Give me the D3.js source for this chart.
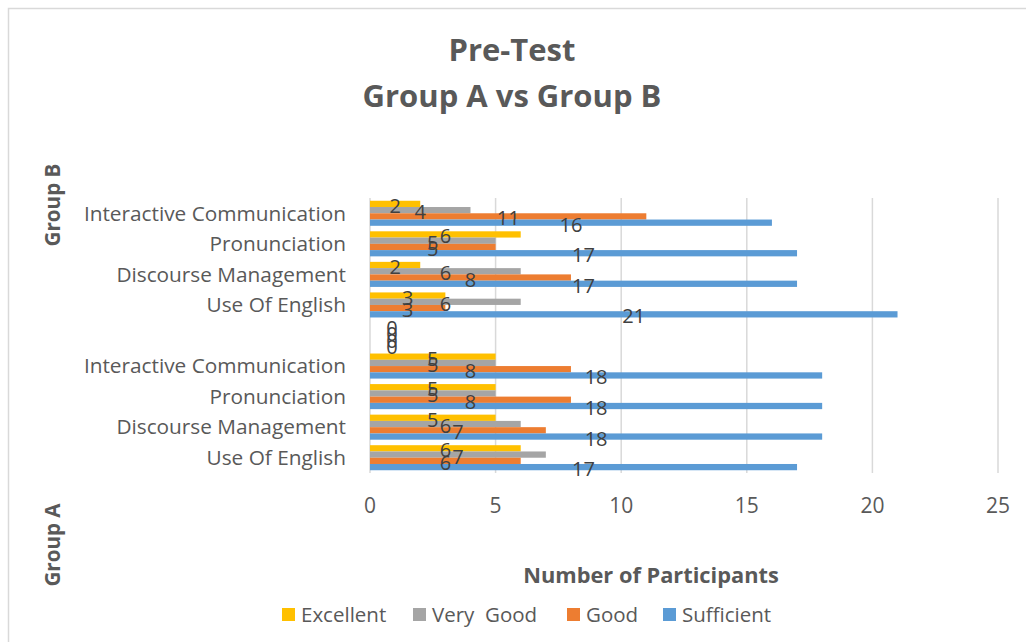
<!DOCTYPE html>
<html>
<head>
<meta charset="utf-8">
<script src="https://cdn.jsdelivr.net/npm/d3@7"></script>
<style>
  body { margin: 0; background: #fff; }
  text { font-family: "Open Sans", sans-serif; white-space: pre; }
</style>
</head>
<body>
<div id="chart"></div>
<script>
// ----------------------------- data -----------------------------//

// categories from bottom to top, as Excel lists them
var categories = ["A|Use Of English", "A|Discourse Management", "A|Pronunciation", "A|Interactive Communication",
  "gap",
  "B|Use Of English", "B|Discourse Management", "B|Pronunciation", "B|Interactive Communication"];

var seriesNames = ["Excellent", "Very  Good", "Good", "Sufficient"];
var seriesColors = ["#FFC000", "#A5A5A5", "#ED7D31", "#5B9BD5"];

var excellent  = [6, 5, 5, 5, 0, 3, 2, 6, 2];
var veryGood   = [7, 6, 5, 5, 0, 6, 6, 5, 4];
var good       = [6, 7, 8, 8, 0, 3, 8, 5, 11];
var sufficient = [17, 18, 18, 18, 0, 21, 17, 17, 16];

var xTicks = [0, 5, 10, 15, 20, 25];

var values = [excellent, veryGood, good, sufficient];

// ----------------------------- svg -----------------------------//

var width = 1026, height = 642;

var svg = d3.select("#chart").append("svg")
  .attr("width", width)
  .attr("height", height);

// chart frame
svg.append("rect")
  .attr("x", 8.5).attr("y", 8.5)
  .attr("width", 1040).attr("height", 660)
  .attr("fill", "none")
  .attr("stroke", "#D9D9D9")
  .attr("stroke-width", 1.5);

var x = d3.scaleLinear().domain([0, 25]).range([370, 998]);

var y = d3.scaleBand()
  .domain(categories.slice().reverse())
  .range([198, 473])
  .paddingInner(0.18)
  .paddingOuter(0.09);

var ySub = d3.scaleBand()
  .domain(seriesNames)
  .range([0, y.bandwidth()]);

// gridlines
svg.append("g")
  .selectAll("line")
  .data(xTicks)
  .enter().append("line")
  .attr("x1", d => x(d)).attr("x2", d => x(d))
  .attr("y1", 198).attr("y2", 473)
  .attr("stroke", "#D9D9D9")
  .attr("stroke-width", 1.5);

// x tick labels
svg.append("g")
  .selectAll("text")
  .data(xTicks)
  .enter().append("text")
  .attr("x", d => x(d))
  .attr("y", 513)
  .attr("text-anchor", "middle")
  .attr("font-size", 21)
  .attr("fill", "#595959")
  .text(d => d);

// bars
var rows = categories.map(function (c, i) {
  return { cat: c, vals: values.map(function (s) { return s[i]; }) };
});

var cat = svg.append("g").selectAll(".cat")
  .data(rows)
  .enter().append("g")
  .attr("class", "cat")
  .attr("transform", d => "translate(0," + y(d.cat) + ")");

cat.selectAll("rect")
  .data(d => d.vals.map(function (v, j) { return { name: seriesNames[j], v: v, color: seriesColors[j] }; }))
  .enter().append("rect")
  .attr("x", x(0))
  .attr("y", d => ySub(d.name))
  .attr("width", d => x(d.v) - x(0))
  .attr("height", ySub.bandwidth())
  .attr("fill", d => d.color);

// data labels (centered on bar, zeros pushed off the axis)
cat.selectAll("text")
  .data(d => d.vals.map(function (v, j) { return { name: seriesNames[j], v: v }; }))
  .enter().append("text")
  .attr("x", d => d.v === 0 ? x(0) + 22 : x(d.v / 2))
  .attr("y", d => ySub(d.name) + ySub.bandwidth() / 2 + 2)
  .attr("dy", "0.35em")
  .attr("text-anchor", "middle")
  .attr("font-size", 20)
  .attr("fill", "#404040")
  .text(d => d.v);

// category labels
svg.append("g")
  .selectAll("text")
  .data(categories.filter(c => c !== "gap"))
  .enter().append("text")
  .attr("x", 346)
  .attr("y", d => y(d) + y.bandwidth() / 2)
  .attr("dy", "0.35em")
  .attr("text-anchor", "end")
  .attr("font-size", 20.8)
  .attr("fill", "#595959")
  .text(d => d.split("|")[1]);

// group labels
var groupLabels = [{ name: "Group B", cy: 205 }, { name: "Group A", cy: 545 }];
svg.append("g")
  .selectAll("text")
  .data(groupLabels)
  .enter().append("text")
  .attr("transform", d => "translate(60," + d.cy + ") rotate(-90)")
  .attr("text-anchor", "middle")
  .attr("font-size", 20.6)
  .attr("font-weight", "bold")
  .attr("fill", "#595959")
  .text(d => d.name);

// title
var title = ["Pre-Test", "Group A vs Group B"];
svg.append("g")
  .selectAll("text")
  .data(title)
  .enter().append("text")
  .attr("x", 512)
  .attr("y", (d, i) => 61 + i * 46)
  .attr("text-anchor", "middle")
  .attr("font-size", 31)
  .attr("font-weight", "bold")
  .attr("fill", "#595959")
  .text(d => d);

// axis title
svg.append("text")
  .attr("x", 651)
  .attr("y", 583)
  .attr("text-anchor", "middle")
  .attr("font-size", 21.8)
  .attr("font-weight", "bold")
  .attr("fill", "#595959")
  .text("Number of Participants");

// legend
var legendX = [282, 413, 567, 663];
var legend = svg.append("g").selectAll("g")
  .data(seriesNames)
  .enter().append("g")
  .attr("transform", (d, i) => "translate(" + legendX[i] + ",608)");

legend.append("rect")
  .attr("width", 13).attr("height", 13)
  .attr("fill", (d, i) => seriesColors[i]);

legend.append("text")
  .attr("x", 19)
  .attr("y", 7)
  .attr("dy", "0.35em")
  .attr("font-size", 20.5)
  .attr("fill", "#595959")
  .text(d => d);
</script>
</body>
</html>
